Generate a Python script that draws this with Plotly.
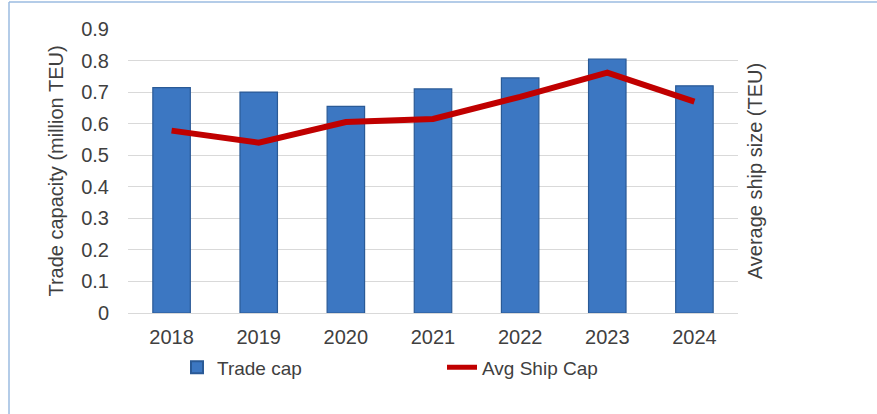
import plotly.graph_objects as go

years = ["2018", "2019", "2020", "2021", "2022", "2023", "2024"]
trade_cap = [0.714, 0.700, 0.655, 0.710, 0.745, 0.805, 0.720]
avg_ship_cap = [0.578, 0.540, 0.605, 0.615, 0.685, 0.762, 0.670]
y_ticks = [0, 0.1, 0.2, 0.3, 0.4, 0.5, 0.6, 0.7, 0.8, 0.9]
y_tick_text = ["0", "0.1", "0.2", "0.3", "0.4", "0.5", "0.6", "0.7", "0.8", "0.9"]

FONT = "Liberation Sans"
TXT = "#404040"

fig = go.Figure()
fig.add_trace(go.Bar(
    x=years, y=trade_cap, name="Trade cap",
    marker=dict(color="#3C77C2", line=dict(color="#2A5A96", width=1.2)),
    yaxis="y",
))
fig.add_trace(go.Scatter(
    x=years, y=avg_ship_cap, name="Avg Ship Cap", mode="lines",
    line=dict(color="#C00000", width=6),
    yaxis="y2",
))

L, R, T, B = 128, 139, 29, 100.5
W, H = 877, 414
pw, ph = W - L - R, H - T - B

def px_x(px):
    return (px - L) / pw

def px_y(py):
    return (H - B - py) / ph

fig.update_layout(
    width=W, height=H,
    margin=dict(l=L, r=R, t=T, b=B, pad=0, autoexpand=False),
    paper_bgcolor="white", plot_bgcolor="white",
    font=dict(family=FONT, size=20, color=TXT),
    bargap=0.57,
    showlegend=True,
    legend=dict(
        orientation="h", x=px_x(177), y=px_y(368), xanchor="left", yanchor="middle",
        font=dict(size=19, color=TXT), entrywidth=220, entrywidthmode="pixels",
        itemsizing="constant", bgcolor="rgba(0,0,0,0)",
    ),
    xaxis=dict(
        type="category", showgrid=False, ticks="", showline=False,
        tickfont=dict(size=20, color=TXT), ticklabelstandoff=10, automargin=False,
    ),
    yaxis=dict(
        range=[0, 0.9], tickvals=y_ticks, ticktext=y_tick_text,
        showgrid=True, gridcolor="#D9D9D9", gridwidth=1.3,
        zeroline=True, zerolinecolor="#D9D9D9", zerolinewidth=1.3,
        ticks="", showline=False, tickfont=dict(size=20, color=TXT),
        ticklabelstandoff=18, automargin=False,
        title=dict(text="Trade capacity (million TEU)", font=dict(size=20, color=TXT), standoff=12),
    ),
    yaxis2=dict(
        range=[0, 0.9], overlaying="y", side="right", showgrid=False,
        showticklabels=False, ticks="", zeroline=False, showline=False, automargin=False,
        title=dict(text="Average ship size (TEU)", font=dict(size=20, color=TXT), standoff=9),
    ),
    shapes=[
        dict(type="line", xref="paper", yref="paper", x0=px_x(9), x1=px_x(9), y0=px_y(2), y1=px_y(420),
             line=dict(color="#9BBBE0", width=1.5)),
        dict(type="line", xref="paper", yref="paper", x0=px_x(9), x1=px_x(880), y0=px_y(2), y1=px_y(2),
             line=dict(color="#9BBBE0", width=1.5)),
    ],
)

fig.write_html("out.html")
